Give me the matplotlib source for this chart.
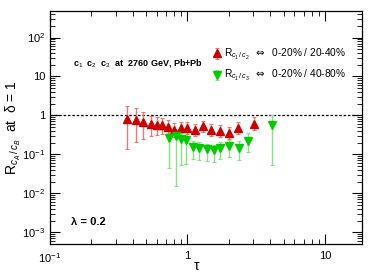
import matplotlib
matplotlib.use("Agg")
import matplotlib.pyplot as plt
from matplotlib.ticker import LogLocator, NullFormatter
import numpy as np

plt.rcParams['font.family'] = ['Liberation Sans', 'DejaVu Sans']
plt.rcParams['mathtext.fontset'] = 'custom'
plt.rcParams['mathtext.rm'] = 'Liberation Sans'
plt.rcParams['mathtext.it'] = 'Liberation Sans:italic'
plt.rcParams['mathtext.bf'] = 'Liberation Sans:bold'
plt.rcParams['mathtext.sf'] = 'DejaVu Sans'
plt.rcParams['mathtext.fallback'] = 'stixsans'

# Red: R_{c1/c2}  0-20% / 20-40%
tau_red = [0.361, 0.42, 0.477, 0.54, 0.597, 0.657, 0.723, 0.80, 0.89, 1.0,
           1.14, 1.29, 1.48, 1.73, 2.01, 2.34, 3.03]
r_red = [0.82, 0.77, 0.69, 0.60, 0.565, 0.565, 0.49, 0.43, 0.483, 0.474,
         0.43, 0.522, 0.43, 0.405, 0.345, 0.474, 0.611]
r_red_hi = [1.70, 1.51, 1.24, 0.94, 0.906, 0.838, 0.745, 0.636, 0.688, 0.662,
            0.611, 0.716, 0.611, 0.577, 0.49, 0.662, 0.906]
r_red_lo = [0.137, 0.207, 0.252, 0.29, 0.307, 0.326, 0.295, 0.278, 0.319, 0.326,
            0.29, 0.367, 0.301, 0.284, 0.247, 0.326, 0.43]

# Green: R_{c1/c3}  0-20% / 40-80%
tau_grn = [0.735, 0.82, 0.90, 0.98, 1.10, 1.22, 1.38, 1.55, 1.73, 2.01, 2.38, 2.74, 4.13]
r_grn = [0.262, 0.29, 0.247, 0.229, 0.154, 0.145, 0.137, 0.127, 0.143, 0.16, 0.145, 0.224, 0.554]
r_grn_hi = [0.389, 0.43, 0.352, 0.319, 0.216, 0.203, 0.188, 0.173, 0.203, 0.229, 0.216, 0.352, 1.04]
r_grn_lo = [0.0446, 0.0151, 0.0523, 0.0577, 0.076, 0.070, 0.066, 0.0624, 0.076, 0.0855, 0.073, 0.112, 0.0523]

fig = plt.figure(figsize=(3.82, 2.74), dpi=100)
ax = fig.add_axes([50/382, 1-244/274, 312/382, 233/274])
ax.set_xscale('log')
ax.set_yscale('log')
ax.set_xlim(0.1, 18.6)
ax.set_ylim(5e-4, 480)

ax.axhline(1.0, color='black', ls=(0, (2, 1.5)), lw=0.9, zorder=1)

def yerr(v, hi, lo):
    v = np.array(v); return [v - np.array(lo), np.array(hi) - v]

h1 = ax.errorbar(tau_red, r_red, yerr=yerr(r_red, r_red_hi, r_red_lo), fmt='^',
                 color='#cc0000', ms=6, ecolor='#e87878', elinewidth=1.0,
                 capsize=1.5, capthick=0.8, zorder=3)
h2 = ax.errorbar(tau_grn, r_grn, yerr=yerr(r_grn, r_grn_hi, r_grn_lo), fmt='v',
                 color='#00cc00', ms=6, ecolor='#88e088', elinewidth=1.0,
                 capsize=1.5, capthick=0.8, zorder=3)

ax.set_xticks([0.1, 1, 10])
ax.set_xticklabels(['10$^{-1}$', '1', '10'])
ax.set_yticks([1e-3, 1e-2, 1e-1, 1, 10, 100])
ax.set_yticklabels(['10$^{-3}$', '10$^{-2}$', '10$^{-1}$', '1', '10', '10$^{2}$'])
for a in (ax.xaxis, ax.yaxis):
    a.set_minor_locator(LogLocator(base=10, subs=np.arange(2, 10), numticks=100))
    a.set_minor_formatter(NullFormatter())
ax.tick_params(which='both', direction='in', top=True, right=True, labelsize=8)
ax.tick_params(which='major', length=7, width=0.8)
ax.tick_params(which='minor', length=3.5, width=0.6)
ax.tick_params(axis='x', pad=5)
for s in ax.spines.values():
    s.set_linewidth(0.9)

fig.text(197/382, 1-266/274, 'τ', ha='center', va='center', fontsize=10)
fig.text(13/382, 1-128/274, r'R$_{c_A\,/\,c_B}$  at  δ = 1', rotation=90,
         ha='center', va='center', fontsize=10)

ax.text(73/382, 1-63/274, r'c$_1$  c$_2$  c$_3$  at  2760 GeV, Pb+Pb', transform=fig.transFigure,
        fontsize=6.5, fontweight='bold', ha='left', va='center')
ax.text(71/382, 1-222/274, 'λ = 0.2', transform=fig.transFigure,
        fontsize=8, fontweight='bold', ha='left', va='center')

leg = ax.legend([h1, h2],
                [r'R$_{c_1\,/\,c_2}$  $\mathsf{\Leftrightarrow}$  0-20% / 20-40%',
                 r'R$_{c_1\,/\,c_3}$  $\mathsf{\Leftrightarrow}$  0-20% / 40-80%'],
                loc='upper left', bbox_to_anchor=(213/382, 1-47/274), bbox_transform=fig.transFigure,
                frameon=False, fontsize=7.3, handlelength=0.8, handletextpad=0.3,
                labelspacing=0.6, borderaxespad=0, borderpad=0)

fig.savefig('out.png', dpi=100)
